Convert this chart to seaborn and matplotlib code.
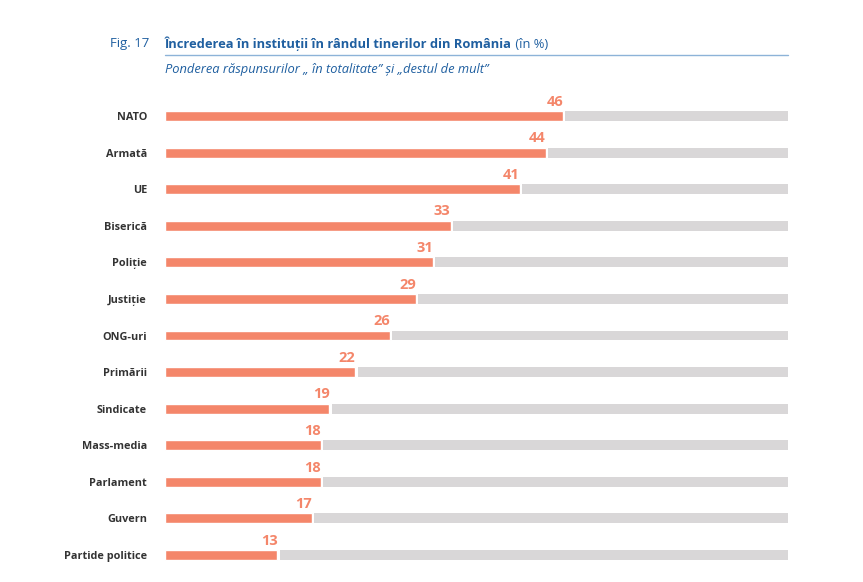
import seaborn as sns
import matplotlib.pyplot as plt
import pandas as pd
import numpy as np

# Date
institutii = ['NATO', 'Armată', 'UE', 'Biserică', 'Poliție', 'Justiție', 'ONG-uri',
              'Primării', 'Sindicate', 'Mass-media', 'Parlament', 'Guvern', 'Partide politice']
valori = [46, 44, 41, 33, 31, 29, 26, 22, 19, 18, 18, 17, 13]
scala_max = 72

titlu_fig = 'Fig. 17'
titlu = 'Încrederea în instituții în rândul tinerilor din România'
titlu_unit = ' (în %)'
subtitlu = 'Ponderea răspunsurilor „ în totalitate” și „destul de mult”'

orange = '#F4866A'
grey = '#D9D7D8'
blue = '#1F5FA0'

sns.set_style('white')
plt.rcParams['font.family'] = ['Open Sans', 'DejaVu Sans']

df = pd.DataFrame({'Institutie': institutii, 'Valoare': valori})
rest = scala_max - df['Valoare'] - 0.25

fig = plt.figure(figsize=(8.63, 5.82), dpi=100)
ax = fig.add_axes([165 / 863, 1 - 573.3 / 582, (788 - 165) / 863, 475.6 / 582])

sns.barplot(data=df, x='Valoare', y='Institutie', orient='h', color=orange,
            width=0.27, saturation=1, ax=ax)
ax.barh(np.arange(len(df)), rest, left=df['Valoare'] + 0.25, height=0.27,
        color=grey, linewidth=0)

for i, v in enumerate(valori):
    ax.text(v, i - 0.2, str(v), ha='right', va='bottom', color=orange,
            fontsize=10.5, fontweight='bold')

ax.set_xlim(0, scala_max)
ax.set_ylim(len(df) - 0.5, -0.5)
ax.set_xlabel('')
ax.set_ylabel('')
ax.set_xticks([])
ax.tick_params(axis='y', length=0, pad=13)
for lbl in ax.get_yticklabels():
    lbl.set_fontweight('bold')
    lbl.set_fontsize(7.8)
    lbl.set_color('#333333')
sns.despine(ax=ax, left=True, bottom=True)

# Titlu
fig.text(110 / 863, 1 - 44 / 582, titlu_fig, color=blue, fontsize=9.5, va='center',
         family=['Open Sans', 'DejaVu Sans'])
t = fig.text(165 / 863, 1 - 44 / 582, titlu, color=blue, fontsize=9.3, fontweight='bold',
             va='center', family=['Open Sans', 'DejaVu Sans'])
fig.canvas.draw()
bb = t.get_window_extent()
fig.text(bb.x1 / 863, 1 - 44 / 582, titlu_unit, color=blue, fontsize=9.3, va='center',
         family=['Open Sans', 'DejaVu Sans'])
fig.add_artist(plt.Line2D([165 / 863, 788 / 863], [1 - 55 / 582] * 2, color='#8DB3D8',
                          linewidth=1, transform=fig.transFigure))
fig.text(165 / 863, 1 - 70 / 582, subtitlu, color=blue, fontsize=9.3, style='italic',
         va='center', family=['Open Sans', 'DejaVu Sans'])

fig.savefig('out.png', dpi=100)
